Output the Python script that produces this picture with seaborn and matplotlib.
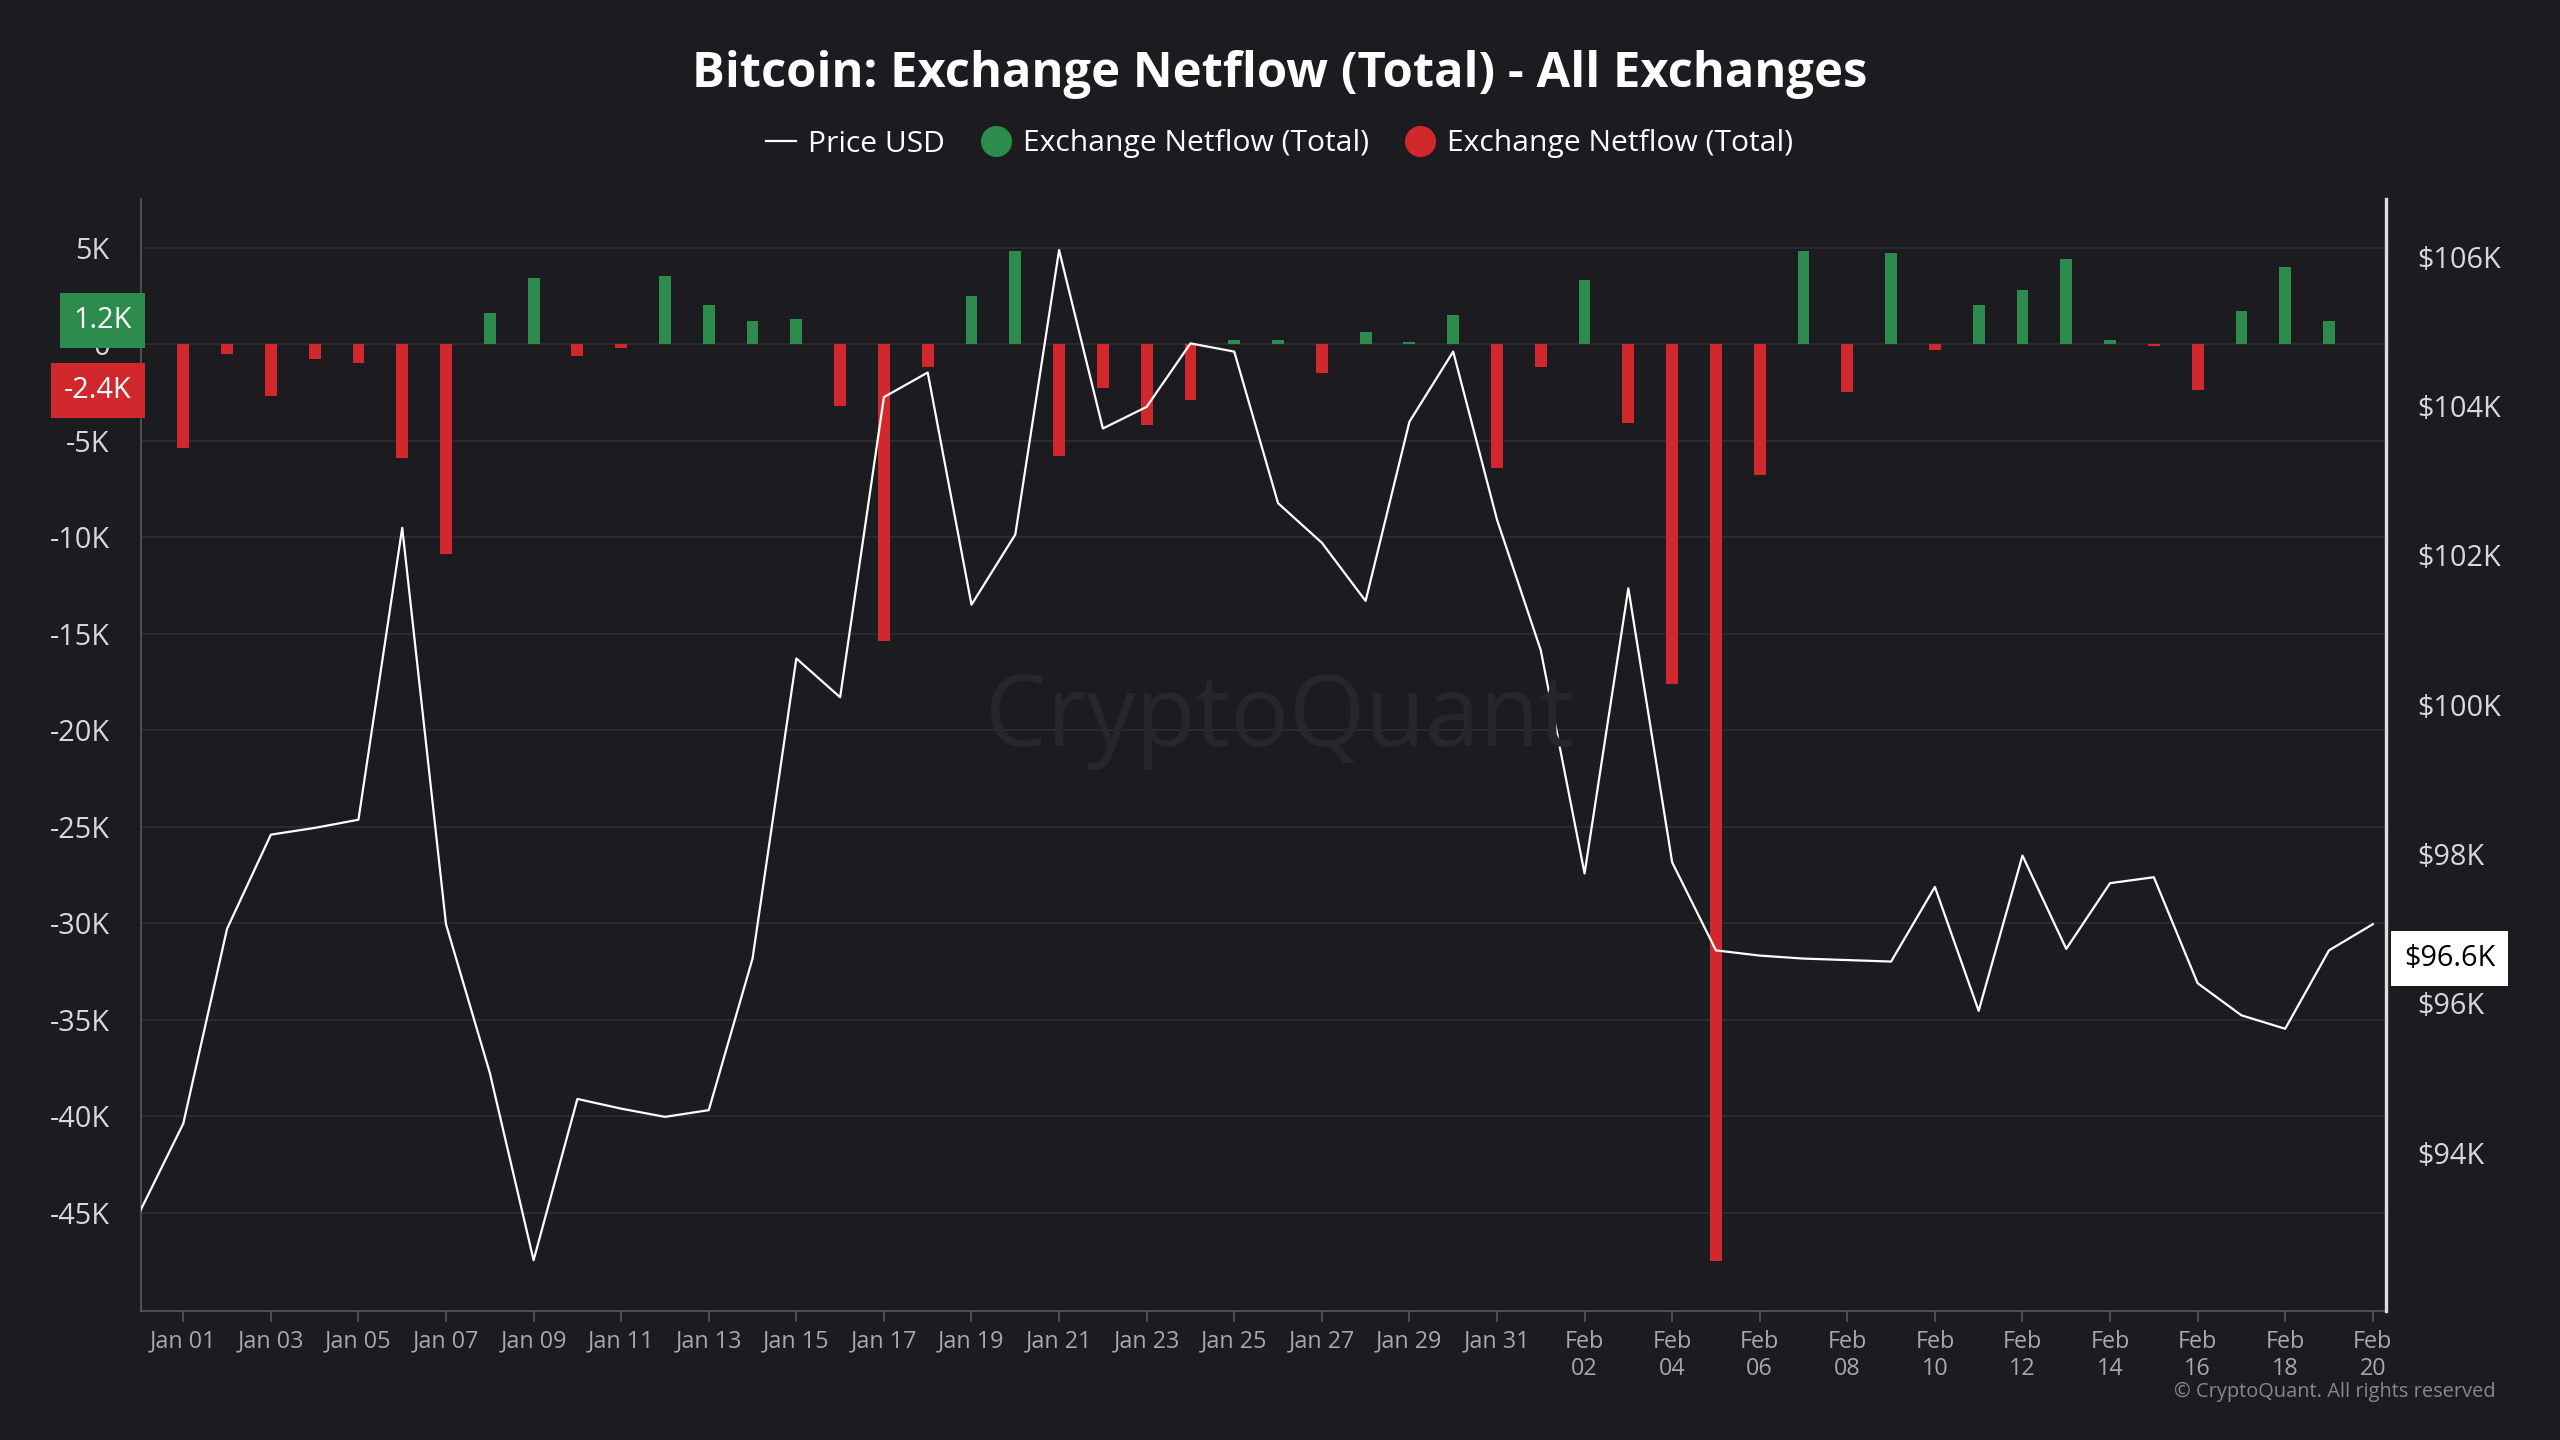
import numpy as np
import pandas as pd
import matplotlib
matplotlib.use("Agg")
import matplotlib.pyplot as plt
import seaborn as sns

days = pd.date_range("2025-01-01", "2025-02-20", freq="D")
netflow_k = [-5.4, -0.5, -2.7, -0.8, -1.0, -5.9, -10.9, 1.6, 3.4, -0.6,
             -0.2, 3.5, 2.0, 1.2, 1.3, -3.2, -15.4, -1.2, 2.5, 4.8,
             -5.8, -2.3, -4.2, -2.9, 0.2, 0.2, -1.5, 0.6, 0.1, 1.5,
             -6.4, -1.2, 3.3, -4.1, -17.6, -47.5, -6.8, 4.8, -2.5, 4.7,
             -0.3, 2.0, 2.8, 4.4, 0.2, -0.1, -2.4, 1.7, 4.0, 1.2, 0.0]
price_k = [93.2, 94.39, 97.0, 98.26, 98.35, 98.46, 102.37, 97.06, 95.07, 92.56,
           94.72, 94.59, 94.48, 94.57, 96.6, 100.62, 100.1, 104.12, 104.45, 101.34,
           102.28, 106.09, 103.7, 103.99, 104.84, 104.73, 102.7, 102.17, 101.39, 103.79,
           104.73, 102.48, 100.73, 97.74, 101.56, 97.89, 96.71, 96.64, 96.6, 96.58,
           96.56, 97.56, 95.9, 97.98, 96.73, 97.61, 97.69, 96.27, 95.84, 95.66,
           96.71, 97.06]
left_ticks = [5, 0, -5, -10, -15, -20, -25, -30, -35, -40, -45]
right_ticks = [94, 96, 98, 100, 102, 104, 106]

BG = "#1b1b20"; GREEN = "#2e8b4e"; RED = "#d0282c"; TXT = "#d8d8d8"
plt.rcParams["font.family"] = "Open Sans"

fig = plt.figure(figsize=(16, 9), dpi=160, facecolor=BG)
ax = fig.add_axes([0.055, 0.0896, 0.877, 0.772], facecolor=BG)
XL = (-0.97, 50.3)

df = pd.DataFrame({"x": np.arange(len(days)), "v": netflow_k})
df["sign"] = np.where(df["v"] >= 0, "pos", "neg")
sns.barplot(data=df, x="x", y="v", hue="sign", palette={"pos": GREEN, "neg": RED},
            native_scale=True, width=0.27, dodge=False, legend=False, ax=ax, saturation=1)
ax.set_ylim(-50.1, 7.5)
ax.set_xlim(*XL)
ax.set_yticks(left_ticks)
ax.set_yticklabels([("0" if t == 0 else f"{t}K") for t in left_ticks], color=TXT, fontsize=13)
xt = list(range(0, 51, 2))
labs = []
for i in xt:
    d = days[i]
    labs.append(d.strftime("Jan %d") if d.month == 1 else d.strftime("Feb\n%d"))
ax.set_xticks(xt)
ax.set_xticklabels(labs, color="#a8a8a8", fontsize=10.5)
ax.tick_params(axis="x", colors="#555", labelcolor="#a8a8a8", length=5)
ax.tick_params(axis="y", length=0, pad=14)
ax.set_xlabel(""); ax.set_ylabel("")
for t in left_ticks:
    ax.axhline(t, color="#2a2a30", lw=0.9, zorder=0)
for s in ["top", "right"]:
    ax.spines[s].set_visible(False)
ax.spines["left"].set_color("#555"); ax.spines["bottom"].set_color("#555")

ax2 = ax.twinx()
px = np.arange(len(price_k)) - 1
sns.lineplot(x=px, y=price_k, color="white", lw=1.0, ax=ax2)
ax2.set_xlim(*XL)
ax2.set_ylim(91.88, 106.77)
ax2.set_yticks(right_ticks)
ax2.set_yticklabels([f"${t}K" for t in right_ticks], color=TXT, fontsize=13)
ax2.tick_params(axis="y", length=0, pad=14)
for s in ["top", "left", "bottom"]:
    ax2.spines[s].set_visible(False)
ax2.spines["right"].set_color("#ddd"); ax2.spines["right"].set_linewidth(1.5)

ax.text(-0.004, 1.2, "1.2K", transform=ax.get_yaxis_transform(), ha="right", va="center",
        color="white", fontsize=13, bbox=dict(boxstyle="square,pad=0.45", fc=GREEN, ec="none"))
ax.text(-0.004, -2.4, "-2.4K", transform=ax.get_yaxis_transform(), ha="right", va="center",
        color="white", fontsize=13, bbox=dict(boxstyle="square,pad=0.45", fc=RED, ec="none"))
ax2.text(1.008, 96.6, "$96.6K", transform=ax2.get_yaxis_transform(), ha="left", va="center",
         color="black", fontsize=13, bbox=dict(boxstyle="square,pad=0.45", fc="white", ec="none"))

fig.text(0.5, 0.5, "CryptoQuant", color="#26262c", fontsize=44, ha="center", va="center")
fig.text(0.975, 0.03, "© CryptoQuant. All rights reserved", color="#888", fontsize=9, ha="right")
fig.text(0.5, 0.948, "Bitcoin: Exchange Netflow (Total) - All Exchanges", color="white",
         fontsize=22, fontweight="bold", ha="center", va="center")

from matplotlib.lines import Line2D
handles = [Line2D([], [], color="white", lw=1),
           Line2D([], [], marker="o", ls="", color=GREEN, markersize=13),
           Line2D([], [], marker="o", ls="", color=RED, markersize=13)]
fig.legend(handles, ["Price USD", "Exchange Netflow (Total)", "Exchange Netflow (Total)"],
           loc="center", bbox_to_anchor=(0.5, 0.9), ncol=3, frameon=False,
           labelcolor="white", fontsize=13.5, handlelength=1.0, handletextpad=0.4, columnspacing=1.2)
fig.savefig("out.png", dpi=160, facecolor=BG)
